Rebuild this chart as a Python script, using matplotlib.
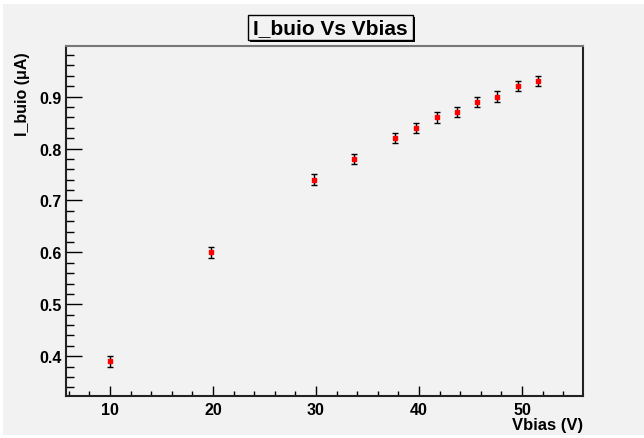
import matplotlib
matplotlib.use("Agg")
import matplotlib.pyplot as plt
from matplotlib.patches import Rectangle
from matplotlib.ticker import MultipleLocator, FormatStrFormatter

# Data
vbias = [10, 19.8, 29.8, 33.7, 37.7, 39.7, 41.7, 43.7, 45.6, 47.6, 49.6, 51.6]
i_buio = [0.39, 0.60, 0.74, 0.78, 0.82, 0.84, 0.86, 0.87, 0.89, 0.90, 0.92, 0.93]
i_err = [0.01] * len(vbias)
title = "I_buio Vs Vbias"
xlabel = "Vbias (V)"
ylabel = "I_buio (\u03bcA)"

W, H = 644, 439
fig = plt.figure(figsize=(W / 100, H / 100), dpi=100, facecolor="white")
bg = "#f2f2f2"
fig.patches.append(Rectangle((3 / W, 3 / H), 1 - 3 / W, 1 - 8 / H,
                             transform=fig.transFigure, facecolor=bg,
                             edgecolor="none", zorder=-10))

fam = ["Liberation Sans", "DejaVu Sans"]

ax = fig.add_axes([65.7 / W, 1 - 397 / H, (583.3 - 65.7) / W, (397 - 46.7) / H])
ax.set_facecolor(bg)
ax.errorbar(vbias, i_buio, yerr=i_err, fmt="s", color="red", markersize=2.2,
            ecolor="black", elinewidth=1.0, capsize=2.2, capthick=1.0)
ax.set_xlim(5.7, 55.95)
ax.set_ylim(0.3235, 0.998)

ax.xaxis.set_major_locator(MultipleLocator(10))
ax.xaxis.set_minor_locator(MultipleLocator(2))
ax.yaxis.set_major_locator(MultipleLocator(0.1))
ax.yaxis.set_minor_locator(MultipleLocator(0.02))
ax.xaxis.set_major_formatter(FormatStrFormatter("%d"))
ax.yaxis.set_major_formatter(FormatStrFormatter("%.1f"))
ax.tick_params(axis="x", which="major", direction="in", length=7.5, width=1.0, pad=4)
ax.tick_params(axis="x", which="minor", direction="in", length=3.8, width=1.0)
ax.tick_params(axis="y", which="major", direction="in", length=11.5, width=1.0, pad=3)
ax.tick_params(axis="y", which="minor", direction="in", length=5.8, width=1.0)
ax.tick_params(top=False, right=False, which="both")
for lab in ax.get_xticklabels() + ax.get_yticklabels():
    lab.set_fontweight("bold")
    lab.set_fontsize(11.5)
    lab.set_family(fam)
for s in ax.spines.values():
    s.set_linewidth(1.5)
    s.set_color("#222222")
ax.spines["top"].set_color("#777777")

fig.text(583 / W, 1 - 426 / H, xlabel, ha="right", va="center",
         fontsize=12, fontweight="bold", family=fam)
fig.text(23 / W, 1 - 52 / H, ylabel, ha="center", va="top", rotation=90,
         fontsize=11.5, fontweight="bold", family=fam)

# Title box with shadow
bx0, bx1, by0, by1 = 248.3, 412.7, 16, 41
fig.patches.append(Rectangle(((bx0 + 2) / W, 1 - (by1 + 2) / H), (bx1 - bx0) / W,
                             (by1 - by0) / H, transform=fig.transFigure,
                             facecolor="black", edgecolor="none", zorder=1))
fig.patches.append(Rectangle((bx0 / W, 1 - by1 / H), (bx1 - bx0) / W,
                             (by1 - by0) / H, transform=fig.transFigure,
                             facecolor=bg, edgecolor="black", linewidth=1.0, zorder=2))
fig.text((bx0 + bx1) / 2 / W, 1 - 28.5 / H, title, ha="center", va="center",
         fontsize=15, fontweight="bold", family=fam, zorder=3)

fig.savefig("out.png", dpi=100, facecolor="white")
